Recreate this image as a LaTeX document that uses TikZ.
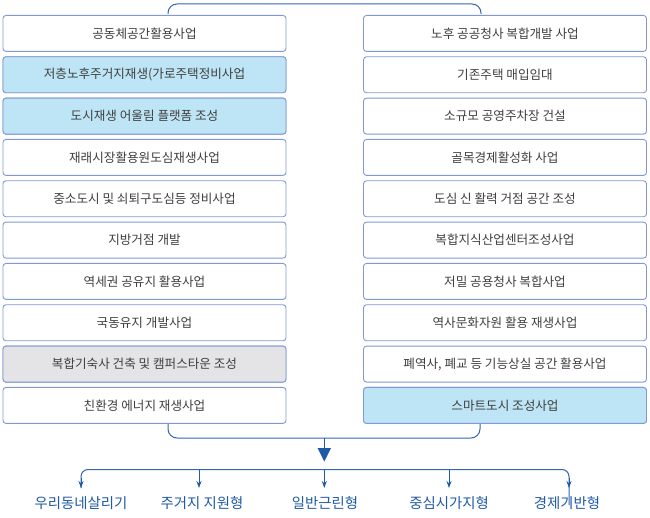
\documentclass[tikz,border=0pt]{standalone}
\usepackage{fontspec}
\setmainfont{Noto Sans CJK KR}
\usetikzlibrary{arrows.meta,positioning}
\definecolor{boxline}{HTML}{8099D3}
\definecolor{boxblue}{HTML}{BEE5F5}
\definecolor{boxgray}{HTML}{E4E4E6}
\definecolor{txtgray}{HTML}{3F3F3F}
\definecolor{linkblue}{HTML}{3465B0}
\definecolor{darkblue}{HTML}{1F5AA6}
\tikzset{
  item/.style={draw=boxline, line width=0.9pt, rounded corners=3pt, fill=white,
    minimum width=283pt, minimum height=36pt, inner sep=0pt, text=txtgray,
    font=\fontsize{12.6}{14}\selectfont, anchor=north},
  hl/.style={fill=boxblue},
  gr/.style={fill=boxgray},
  link/.style={draw=linkblue, line width=1pt, rounded corners=9pt},
  tip/.style={draw=darkblue, line width=1pt, -{Stealth[length=7pt,width=5pt]}, shorten >=8.5pt},
  lab/.style={text=darkblue, font=\fontsize{14.4}{16}\selectfont, inner sep=0pt, anchor=north}
}
\begin{document}
\begin{tikzpicture}[x=1pt,y=-1pt]
\useasboundingbox (0,0) rectangle (650,518);
% left column
\foreach \t [count=\i from 0] in {
  공동체공간활용사업,
  저층노후주거지재생(가로주택정비사업,
  도시재생 어울림 플랫폼 조성,
  재래시장활용원도심재생사업,
  중소도시 및 쇠퇴구도심등 정비사업,
  지방거점 개발,
  역세권 공유지 활용사업,
  국동유지 개발사업,
  복합기숙사 건축 및 캠퍼스타운 조성,
  친환경 에너지 재생사업}{
  \node[item] (L\i) at (144.5,{15+41.33*\i}) {\t};
}
\foreach \t [count=\i from 0] in {
  노후 공공청사 복합개발 사업,
  기존주택 매입임대,
  소규모 공영주차장 건설,
  골목경제활성화 사업,
  도심 신 활력 거점 공간 조성,
  복합지식산업센터조성사업,
  저밀 공용청사 복합사업,
  역사문화자원 활용 재생사업,
  {폐역사, 폐교 등 기능상실 공간 활용사업},
  스마트도시 조성사업}{
  \node[item] (R\i) at (505,{15+41.33*\i}) {\t};
}
% highlighted fills redrawn
\node[item,hl] at (L1.north) {저층노후주거지재생(가로주택정비사업};
\node[item,hl] at (L2.north) {도시재생 어울림 플랫폼 조성};
\node[item,gr] at (L8.north) {복합기숙사 건축 및 캠퍼스타운 조성};
\node[item,hl] at (R9.north) {스마트도시 조성사업};
% top bracket
\coordinate (tl) at (168,14);
\coordinate (tr) at (481,14);
\coordinate (tm) at (324,4);
\draw[link] (tl) |- (tm) -| (tr);
% bottom bracket
\coordinate (bl) at (168,424);
\coordinate (br) at (480,424);
\coordinate (bm) at (324,438);
\draw[link] (bl) |- (bm) -| (br);
\coordinate (tri) at (324,448);
\draw[draw=darkblue, line width=1pt] (bm) -- (tri);
\fill[darkblue] (317.5,448) -- (331,448) -- (324.3,461.5) -- cycle;
% outcome labels
\node[lab] (O1) at (81,496.5) {우리동네살리기};
\node[lab] (O2) at (202,496.5) {주거지 지원형};
\node[lab] (O3) at (325,496.5) {일반근린형};
\node[lab] (O4) at (449,496.5) {중심시가지형};
\node[lab] (O5) at (567,496.5) {경제기반형};
% distribution line
\coordinate (d1) at (81,478);
\coordinate (d2) at (199,469.5);
\coordinate (d3) at (324.3,469.5);
\coordinate (d4) at (449,469.5);
\coordinate (d5) at (569,478);
\coordinate (e1) at (81,496.5);
\coordinate (e2) at (199,496.5);
\coordinate (e3) at (324.3,496.5);
\coordinate (e4) at (449,496.5);
\coordinate (e5) at (569,496.5);
\draw[link, rounded corners=7pt] (e1) ++(0,-8.5) |- (d3) -| ([yshift=-8.5pt]e5);
\foreach \k in {1,...,5}{\draw[tip] (d\k) -- (e\k);}
\end{tikzpicture}
\end{document}
